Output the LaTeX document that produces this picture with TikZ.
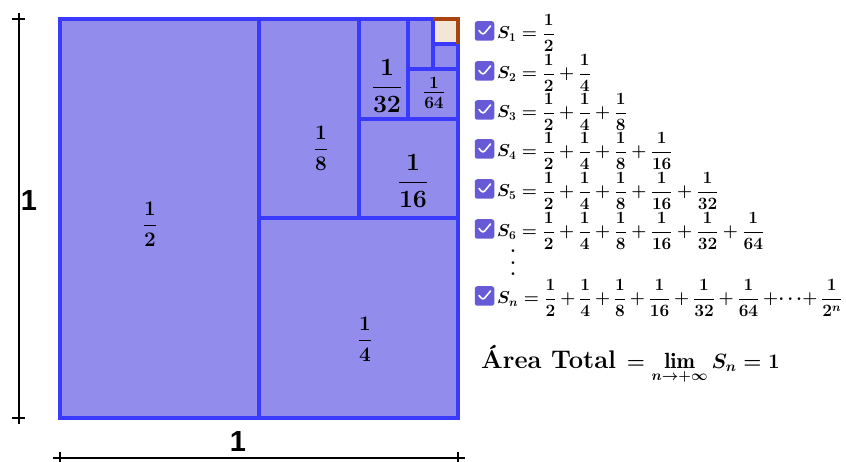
\documentclass[tikz,border=0pt]{standalone}
\usepackage{amsmath}
\usepackage{fontspec}
\newfontfamily\axisfont{Liberation Sans}
\definecolor{sqfill}{RGB}{146,140,236}
\definecolor{sqline}{RGB}{58,58,255}
\definecolor{cream}{RGB}{244,230,212}
\definecolor{tinyedge}{RGB}{168,68,14}
\definecolor{chk}{RGB}{102,90,214}
\tikzset{
  sqedge/.style={sqline, line width=4pt},
  axisline/.style={black, line width=2pt},
  axislabel/.style={font=\axisfont\bfseries\fontsize{29}{30}\selectfont, inner sep=0pt},
  fracA/.style={font=\fontsize{19.5}{23}\selectfont\boldmath, inner sep=0pt},
  fracB/.style={font=\fontsize{25}{29}\selectfont\boldmath, inner sep=0pt},
  rowtext/.style={font=\fontsize{16.8}{20}\selectfont\boldmath, inner sep=0pt, anchor=west},
  chkbox/.style={rectangle, rounded corners=2.5pt, fill=chk, minimum size=19.5pt, inner sep=0pt,
    path picture={\draw[white, line width=1.6pt, line cap=round, line join=round]
      ([shift={(-5.5pt,0.5pt)}]path picture bounding box.center) --
      ([shift={(-1.5pt,-4pt)}]path picture bounding box.center) --
      ([shift={(6pt,5pt)}]path picture bounding box.center);}}
}
\begin{document}
\begin{tikzpicture}[x=1pt,y=-1pt]
\useasboundingbox (0,0) rectangle (846,462);
% square
\fill[sqfill] (60,19.5) rectangle (458,417.5);
\fill[cream] (433.1,19.5) rectangle (458,44.4);
\draw[sqedge] (60,19.5) rectangle (458,417.5);
\draw[sqedge] (259,19.5) -- (259,417.5);
\draw[sqedge] (259,218.5) -- (458,218.5);
\draw[sqedge] (358.5,19.5) -- (358.5,218.5);
\draw[sqedge] (358.5,119) -- (458,119);
\draw[sqedge] (408.25,19.5) -- (408.25,119);
\draw[sqedge] (408.25,69.25) -- (458,69.25);
\draw[sqedge] (433.1,19.5) -- (433.1,69.25);
\draw[sqedge] (433.1,44.4) -- (458,44.4);
\draw[tinyedge, line width=4pt] (433.1,19.5) -- (458,19.5) -- (458,44.4);
% fractions in the square
\node[fracA] (f2) at (150,224) {$\displaystyle\frac{1}{2}$};
\node[fracA] (f4) at (365,339) {$\displaystyle\frac{1}{4}$};
\node[fracA] (f8) at (321,148) {$\displaystyle\frac{1}{8}$};
\node[fracB] (f16) at (413,181) {$\displaystyle\frac{1}{16}$};
\node[fracB] (f32) at (387,86) {$\displaystyle\frac{1}{32}$};
\node[fracB] (f64) at (434,93) {$\frac{1}{64}$};
% axes
\coordinate (vt) at (18.5,13);
\coordinate (vb) at (18.5,424);
\draw[axisline] (vt) -- (vb);
\draw[axisline] (12,19.5) -- (25,19.5);
\draw[axisline] (12,417.5) -- (25,417.5);
\node[axislabel] (ly) at (29,201) {1};
\coordinate (hl) at (53,458);
\coordinate (hr) at (465,458);
\draw[axisline] (hl) -- (hr);
\draw[axisline] (60,452) -- (60,464);
\draw[axisline] (458,452) -- (458,464);
\node[axislabel] (lx) at (238,442) {1};
% checkboxes and sums
\node[chkbox] (c1) at (484.5,31) {};
\node[chkbox] (c2) at (484.5,71) {};
\node[chkbox] (c3) at (484.5,110) {};
\node[chkbox] (c4) at (484.5,149) {};
\node[chkbox] (c5) at (484.5,189) {};
\node[chkbox] (c6) at (484.5,229) {};
\node[chkbox] (cn) at (484.5,296) {};
\node[rowtext] (s1) at (497,33) {$\displaystyle S_1=\frac{1}{2}$};
\node[rowtext] (s2) at (497,73) {$\displaystyle S_2=\frac{1}{2}+\frac{1}{4}$};
\node[rowtext] (s3) at (497,112) {$\displaystyle S_3=\frac{1}{2}+\frac{1}{4}+\frac{1}{8}$};
\node[rowtext] (s4) at (497,151) {$\displaystyle S_4=\frac{1}{2}+\frac{1}{4}+\frac{1}{8}+\frac{1}{16}$};
\node[rowtext] (s5) at (497,191) {$\displaystyle S_5=\frac{1}{2}+\frac{1}{4}+\frac{1}{8}+\frac{1}{16}+\frac{1}{32}$};
\node[rowtext] (s6) at (497,231) {$\displaystyle S_6=\frac{1}{2}+\frac{1}{4}+\frac{1}{8}+\frac{1}{16}+\frac{1}{32}+\frac{1}{64}$};
\node[font=\fontsize{19}{23}\selectfont\bfseries, inner sep=0pt] (dots) at (513,263)
  {\vbox{\baselineskip=11.5pt\lineskiplimit=-20pt\hbox{.}\hbox{.}\hbox{.}}};
\node[rowtext] (sn) at (497,298) {\medmuskip=3.4mu$\displaystyle S_n=\frac{1}{2}+\frac{1}{4}+\frac{1}{8}+\frac{1}{16}+\frac{1}{32}+\frac{1}{64}+\!\cdots\!+\frac{1}{2^n}$};
\node[font=\boldmath, inner sep=0pt, anchor=base west] (area) at (481,368)
  {{\fontsize{25.5}{30}\selectfont\textbf{Área Total}}{\fontsize{22}{26}\selectfont$\displaystyle\,{}=\lim_{n\to+\infty}S_n=1$}};
\end{tikzpicture}
\end{document}
